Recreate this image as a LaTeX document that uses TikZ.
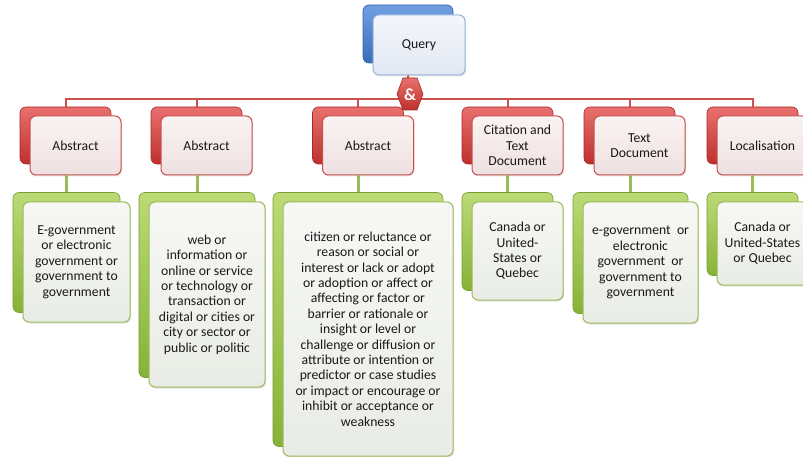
\documentclass[tikz,border=0pt]{standalone}
\usepackage{fontspec}
\setmainfont{Carlito}
\usetikzlibrary{shadows}
\definecolor{txt}{RGB}{25,25,25}
\definecolor{redT}{RGB}{232,112,110}
\definecolor{redB}{RGB}{190,48,44}
\definecolor{redD}{RGB}{165,42,40}
\definecolor{redL}{RGB}{200,80,77}
\definecolor{redFT}{RGB}{251,243,243}
\definecolor{redFB}{RGB}{238,224,224}
\definecolor{grnT}{RGB}{188,218,118}
\definecolor{grnB}{RGB}{135,178,55}
\definecolor{grnD}{RGB}{118,158,48}
\definecolor{grnL}{RGB}{155,187,89}
\definecolor{grnFT}{RGB}{247,248,245}
\definecolor{grnFB}{RGB}{233,236,229}
\definecolor{bluT}{RGB}{112,160,226}
\definecolor{bluB}{RGB}{58,108,185}
\definecolor{bluD}{RGB}{52,98,168}
\definecolor{bluL}{RGB}{150,180,220}
\definecolor{bluFT}{RGB}{244,246,251}
\definecolor{bluFB}{RGB}{226,232,243}
\tikzset{
  box/.style={rounded corners=6pt, inner sep=0pt, align=center, text=txt,
    font=\fontsize{13.7pt}{15.4pt}\selectfont},
  backbox/.style={box, line width=0.6pt},
  frontbox/.style={box, line width=1pt,
    drop shadow={opacity=0.22, shadow xshift=1pt, shadow yshift=-1.5pt}},
  qback/.style={backbox, top color=bluT, bottom color=bluB, draw=bluD},
  qfront/.style={frontbox, top color=bluFT, bottom color=bluFB, draw=bluL},
  rback/.style={backbox, top color=redT, bottom color=redB, draw=redD},
  rfront/.style={frontbox, top color=redFT, bottom color=redFB, draw=redL},
  gback/.style={backbox, top color=grnT, bottom color=grnB, draw=grnD},
  gfront/.style={frontbox, top color=grnFT, bottom color=grnFB, draw=grnL},
  redwire/.style={draw=redL, line width=2pt},
  grnwire/.style={draw=grnL, line width=3pt},
}
\begin{document}
\begin{tikzpicture}[x=1pt, y=-1pt]
\useasboundingbox[fill=white] (0,0) rectangle (803,457);

% Query
\node[qback, minimum width=90pt, minimum height=58pt] (qb) at (408,34) {};
\node[qfront, minimum width=92pt, minimum height=60pt] (qf) at (419,45) {Query};

% red boxes
\foreach \n/\x in {1/75.5, 2/206.5, 3/368, 4/517.5, 5/639.5, 6/762.5}{
  \node[rback, minimum width=91pt, minimum height=57pt] (rb\n) at ({\x-10},135.5) {};
}
\node[rfront, minimum width=91pt, minimum height=59pt] (rf1) at (75.5,145.5) {Abstract};
\node[rfront, minimum width=91pt, minimum height=59pt] (rf2) at (206.5,145.5) {Abstract};
\node[rfront, minimum width=91pt, minimum height=59pt] (rf3) at (368,145.5) {Abstract};
\node[rfront, minimum width=91pt, minimum height=59pt] (rf4) at (517.5,145.5) {Citation and\\Text\\Document};
\node[rfront, minimum width=91pt, minimum height=59pt] (rf5) at (639.5,145.5) {Text\\Document};
\node[rfront, minimum width=91pt, minimum height=59pt] (rf6) at (762.5,145.5) {Localisation};

% green boxes
\node[gback, minimum width=107pt, minimum height=120pt] (gb1) at (66.5,252.5) {};
\node[gback, minimum width=116pt, minimum height=185pt] (gb2) at (197,285) {};
\node[gback, minimum width=170pt, minimum height=254pt] (gb3) at (358,319.5) {};
\node[gback, minimum width=91pt, minimum height=98pt] (gb4) at (507.5,241.5) {};
\node[gback, minimum width=115pt, minimum height=121pt] (gb5) at (630.5,253) {};
\node[gback, minimum width=91pt, minimum height=83pt] (gb6) at (752.5,234) {};

\node[gfront, minimum width=107pt, minimum height=120pt] (gf1) at (76.5,262)
  {E-government\\or electronic\\government or\\government to\\government};
\node[gfront, minimum width=116pt, minimum height=185pt] (gf2) at (207,294.5)
  {web or\\information or\\online or service\\or technology or\\transaction or\\digital or cities or\\city or sector or\\public or politic};
\node[gfront, minimum width=170pt, minimum height=254pt] (gf3) at (368,329)
  {citizen or reluctance or\\reason or social or\\interest or lack or adopt\\or adoption or affect or\\affecting or factor or\\barrier or rationale or\\insight or level or\\challenge or diffusion or\\attribute or intention or\\predictor or case studies\\or impact or encourage or\\inhibit or acceptance or\\weakness};
\node[gfront, minimum width=91pt, minimum height=98pt] (gf4) at (517.5,251)
  {Canada or\\United-\\States or\\Quebec};
\node[gfront, minimum width=115pt, minimum height=121pt] (gf5) at (640.5,262.5)
  {e-government~ or\\electronic\\government~ or\\government to\\government};
\node[gfront, minimum width=91pt, minimum height=83pt] (gf6) at (762.5,243.5)
  {Canada or\\United-States\\or Quebec};

% wires
\coordinate (bus) at (410,99);
\path[redwire] (rb1.north) |- (bus) -| (rb6.north);
\foreach \n in {2,3,4,5}{
  \path[redwire] (rb\n.north) -- (rb\n.north |- bus);
}
\path[redwire] (qb.south |- qf.south) -- (bus);
\foreach \n in {1,...,6}{
  \path[grnwire] (gb\n.north |- rf\n.south) -- (gb\n.north);
}

% & hexagon
\shade[top color=redT, bottom color=redB, draw=redD, line width=0.6pt]
  (403,78) -- (417,78) -- (423,94) -- (417,110) -- (403,110) -- (397,94) -- cycle;
\node[text=white, font=\fontsize{17pt}{17pt}\selectfont\bfseries, inner sep=0pt] (amp) at (410,95) {\&};
\end{tikzpicture}
\end{document}
